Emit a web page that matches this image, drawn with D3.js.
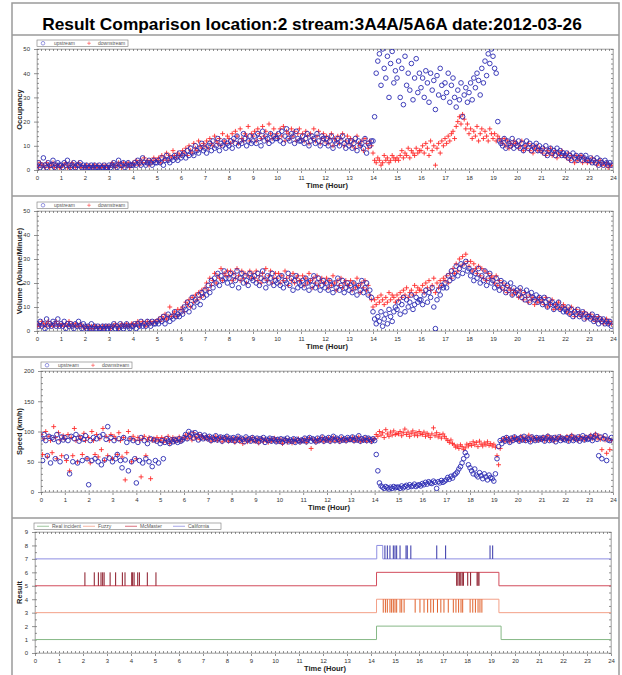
<!DOCTYPE html>
<html>
<head>
<meta charset="utf-8">
<script src="https://cdn.jsdelivr.net/npm/d3@7"></script>
<style>
  body { margin: 0; background: #fff; }
  text { font-family: "Liberation Sans", Arial, sans-serif; }
</style>
</head>
<body>
<div id="chart"></div>
<script>
// ---- data: one row per hour, one value every 4 minutes ----
var PER_HOUR = 15;
var HOURS = d3.range(0, 25);

var occUp = [
  [2,3,1,2,5,2,1,3,2,2,4,1,2,3,2],
  [2,1,3,2,4,2,1,2,3,1,2,2,3,1,2],
  [1,2,1,1,2,1,2,1,1,2,1,1,2,1,1],
  [2,1,2,3,2,1,4,2,2,3,1,2,3,2,2],
  [2,3,2,4,3,2,5,3,2,3,4,3,2,4,3],
  [3,4,3,5,2,4,6,4,3,5,4,6,5,4,7],
  [5,6,7,5,8,6,9,7,6,10,8,7,9,11,8],
  [9,7,10,11,8,12,9,10,13,8,11,10,12,9,11],
  [10,12,9,13,11,14,10,12,11,15,13,10,12,14,11],
  [12,14,11,15,13,10,16,12,14,13,11,15,12,14,13],
  [13,15,12,16,11,14,17,13,12,15,14,11,16,13,12],
  [12,14,11,13,15,10,12,14,13,11,15,12,10,14,13],
  [11,13,10,12,14,9,12,11,13,10,12,14,11,9,12],
  [10,12,9,11,13,8,12,10,11,9,13,7,11,10,12],
  [12,22,40,45,48,35,50,42,38,47,30,44,49,36,41],
  [38,45,30,42,27,47,35,40,33,44,29,38,46,32,40],
  [34,38,30,41,36,28,40,33,37,25,39,31,42,35,30],
  [36,32,40,28,35,38,30,26,33,29,36,22,31,34,28],
  [32,36,29,38,34,40,37,31,42,36,45,39,48,44,50],
  [47,42,40,20,12,11,10,13,9,12,11,10,13,9,11],
  [10,12,9,11,8,10,12,9,11,8,10,9,11,8,10],
  [8,9,7,10,6,8,9,7,8,6,9,7,8,6,7],
  [6,7,5,6,4,7,5,6,4,5,6,4,5,6,4],
  [4,5,3,4,3,5,2,4,3,2,4,3,2,3,2]
].flat();

var occDn = [
  [2,1,3,2,2,1,3,2,1,2,3,1,2,2,1],
  [1,2,2,3,1,2,1,3,2,1,2,3,1,2,1],
  [1,2,1,2,1,1,2,1,2,1,1,2,1,2,1],
  [1,2,3,2,1,2,3,2,1,3,2,2,3,1,2],
  [3,2,4,3,2,4,3,5,3,4,2,4,3,5,4],
  [4,5,3,6,4,5,7,4,6,5,8,6,5,7,6],
  [6,8,7,9,6,10,8,7,11,9,8,12,10,9,11],
  [10,12,9,13,11,10,14,12,11,13,10,15,12,11,14],
  [13,11,15,12,16,14,11,17,13,12,15,14,18,12,15],
  [14,16,12,17,15,13,18,14,16,12,19,15,13,17,14],
  [15,13,17,14,18,12,16,15,13,17,14,16,12,15,17],
  [13,15,12,16,14,11,15,13,17,12,14,16,11,13,15],
  [12,14,11,13,15,10,13,12,14,11,13,15,10,12,14],
  [11,13,10,12,9,14,11,10,12,8,13,11,9,12,10],
  [7,4,3,5,4,2,3,6,4,5,3,4,6,5,4],
  [5,4,6,8,5,7,6,9,5,8,7,6,9,7,8],
  [8,10,7,11,9,6,12,8,10,2,9,11,7,12,10],
  [13,11,14,12,15,16,13,18,20,22,19,23,21,17,19],
  [15,17,13,16,14,18,12,15,17,13,16,14,12,17,15],
  [13,15,12,14,13,12,11,13,10,12,9,11,10,12,11],
  [11,9,10,12,8,10,9,11,8,10,7,9,10,8,9],
  [8,7,9,6,8,7,9,6,7,8,5,7,6,8,6],
  [6,5,7,4,6,5,3,6,4,5,6,3,5,4,3],
  [4,3,5,3,4,2,3,4,2,3,2,3,1,2,2]
].flat();

var volUp = [
  [3,2,4,2,3,1,5,2,3,2,4,3,2,5,2],
  [3,2,4,1,3,2,3,2,1,3,2,4,2,1,3],
  [2,1,2,1,3,1,2,1,2,1,1,2,1,2,1],
  [2,1,2,3,1,2,1,3,2,1,2,3,2,1,2],
  [2,3,1,3,2,4,2,3,2,4,3,2,4,3,3],
  [4,3,5,4,6,3,5,7,4,6,5,8,6,7,6],
  [8,7,10,9,12,8,11,14,10,13,12,15,11,16,14],
  [17,15,19,16,21,18,22,20,24,19,23,21,25,22,20],
  [22,24,19,23,21,25,18,22,24,20,23,21,19,24,22],
  [21,23,20,24,19,22,25,21,18,23,20,22,24,19,21],
  [20,22,19,23,18,21,20,24,19,22,17,21,23,18,20],
  [19,21,18,22,20,17,21,19,23,18,20,22,17,19,21],
  [18,20,17,21,19,16,20,18,22,17,19,21,16,18,20],
  [17,19,16,20,18,15,19,17,21,16,18,20,15,17,14],
  [8,5,3,6,4,8,2,5,7,3,9,6,4,8,10],
  [9,12,7,11,14,8,13,10,12,15,9,11,14,12,13],
  [13,11,15,17,12,16,14,18,10,1,13,17,15,19,18],
  [20,18,23,21,25,22,24,27,23,26,28,24,27,29,25],
  [26,23,25,21,24,22,26,20,23,21,25,19,22,24,20],
  [21,18,22,19,17,21,18,20,16,19,17,20,15,18,16],
  [17,15,18,14,16,13,17,15,12,16,14,13,15,12,14],
  [13,11,14,12,10,13,11,12,9,11,10,12,9,10,8],
  [9,8,10,7,9,6,8,7,9,6,7,8,5,7,6],
  [6,5,7,4,5,6,3,5,4,5,3,4,3,4,2]
].flat();

var volDn = [
  [2,3,2,4,3,2,3,4,2,3,2,3,4,2,3],
  [2,3,2,3,2,4,2,3,2,3,2,2,3,2,2],
  [1,2,2,1,2,1,2,2,1,2,1,2,1,2,2],
  [2,1,2,2,3,2,1,2,3,2,2,3,2,2,3],
  [3,2,3,4,2,3,4,3,2,4,3,4,3,4,4],
  [4,5,4,6,5,7,5,6,10,6,7,8,6,9,7],
  [9,10,8,12,11,13,10,14,12,15,13,16,14,17,15],
  [18,20,17,22,19,21,24,20,23,22,26,21,24,23,25],
  [23,25,21,24,22,26,23,21,25,22,24,20,23,25,22],
  [24,22,25,21,23,20,24,22,26,21,23,25,20,22,24],
  [22,24,20,23,21,25,22,19,23,21,24,20,22,23,21],
  [21,23,19,22,20,24,21,18,22,20,23,19,21,22,20],
  [20,22,18,21,19,23,20,17,21,19,22,18,20,21,19],
  [19,21,17,20,18,22,19,16,20,18,21,17,19,15,13],
  [10,13,11,14,12,15,13,11,14,12,16,13,15,14,12],
  [15,13,16,14,17,15,18,14,16,17,15,19,16,18,17],
  [17,19,16,20,18,21,17,19,22,16,20,18,21,19,22],
  [21,23,20,24,22,26,24,28,25,30,27,31,28,32,29],
  [27,29,25,28,26,24,27,23,26,22,25,21,24,22,23],
  [22,20,23,19,21,18,20,17,19,16,18,17,15,17,16],
  [16,14,17,15,13,16,14,12,15,13,14,11,13,12,14],
  [12,13,11,14,10,12,11,13,9,11,10,12,9,10,11],
  [10,8,9,7,10,8,6,9,7,8,6,7,8,5,7],
  [6,7,5,6,4,5,6,4,5,3,4,5,3,4,3]
].flat();

var spdUp = [
  [88,52,95,85,60,92,48,90,87,55,95,83,50,91,86],
  [90,58,85,30,92,50,88,95,48,84,90,52,87,93,55],
  [12,85,52,90,55,88,50,92,45,95,53,87,108,56,90],
  [50,85,55,62,88,52,40,90,53,82,35,88,50,85,55],
  [15,82,52,90,48,85,55,80,50,88,42,86,52,84,48],
  [80,85,55,82,88,84,80,86,83,87,85,82,88,84,86],
  [90,95,88,100,92,97,89,98,93,86,95,91,88,94,90],
  [88,92,85,90,87,93,86,89,91,84,90,88,92,85,89],
  [86,90,84,88,92,85,89,87,83,91,86,88,84,90,87],
  [85,89,83,88,86,90,82,87,85,89,84,88,86,83,87],
  [84,88,82,87,85,89,83,86,84,88,82,87,85,83,86],
  [85,89,83,87,90,84,88,86,83,89,85,87,91,84,88],
  [86,90,84,88,92,85,89,87,84,91,86,88,85,90,87],
  [87,91,85,89,86,93,84,88,86,90,85,89,87,84,88],
  [85,62,35,15,10,8,6,9,7,5,8,6,9,7,8],
  [8,6,10,7,9,11,8,12,9,10,13,9,11,12,10],
  [14,12,16,13,17,15,14,18,16,6,17,15,19,16,18],
  [20,24,21,26,23,28,30,33,38,42,48,55,65,60,45],
  [40,35,30,38,28,25,32,27,22,30,25,20,28,24,22],
  [18,30,55,75,85,80,88,84,90,86,82,89,85,91,87],
  [88,84,90,86,92,85,89,87,83,91,88,85,90,86,89],
  [87,90,84,88,92,85,89,86,90,83,88,91,85,89,87],
  [86,90,84,88,92,85,89,87,91,84,88,93,86,90,87],
  [88,92,85,90,94,87,60,91,55,88,93,52,86,85,90]
].flat();

var spdDn = [
  [95,62,88,100,58,92,85,65,108,90,55,98,86,60,93],
  [88,52,95,35,90,60,105,85,50,92,88,62,97,85,55],
  [90,48,100,85,62,95,58,88,70,105,52,92,60,85,95],
  [55,92,88,62,98,85,58,90,20,65,100,88,50,92,86],
  [55,90,85,25,88,92,60,86,90,22,85,88,84,90,86],
  [85,90,82,88,84,92,80,86,90,83,88,85,91,84,87],
  [90,94,88,96,92,86,98,91,89,95,87,93,90,88,92],
  [87,91,84,89,86,92,85,88,90,83,89,86,91,84,88],
  [85,89,82,87,90,84,88,80,86,89,83,87,85,90,84],
  [84,88,81,86,89,83,87,85,82,88,84,86,89,83,87],
  [83,87,80,85,88,82,86,84,81,87,83,85,88,82,86],
  [84,88,82,86,89,72,87,85,82,88,84,86,90,83,87],
  [85,89,83,87,90,84,88,86,83,89,85,87,84,88,86],
  [86,90,84,88,85,91,83,87,85,89,84,88,86,83,87],
  [88,95,92,100,94,98,90,103,96,92,99,94,101,95,97],
  [96,100,93,98,104,95,99,92,97,101,94,98,93,100,96],
  [95,99,92,97,94,90,96,106,93,98,91,95,89,96,92],
  [88,85,82,86,80,78,74,76,72,78,75,70,73,79,76],
  [80,77,83,78,82,75,84,79,76,81,78,83,77,80,76],
  [79,74,60,45,72,85,88,84,90,86,83,89,85,91,87],
  [88,84,92,86,90,85,89,94,84,91,88,86,90,85,89],
  [87,91,85,89,93,86,90,88,84,91,87,89,92,86,88],
  [88,92,85,90,94,87,91,89,85,92,88,90,86,91,89],
  [90,94,88,92,96,89,93,87,70,91,86,64,88,70,85]
].flat();

// detector results: hours where the signal is "on", plus short pulses
var realOn = [[14.23, 19.42]];
var fuzzyOn = [[14.23, 19.33]];
var fuzzyPulses = [14.51,14.6,14.68,14.79,14.86,14.93,15.0,15.07,15.21,15.28,15.38,15.84,16.04,
  16.21,16.36,16.49,16.6,16.77,16.91,17.04,17.22,17.43,17.54,17.65,17.75,17.82,18.13,18.24,18.35,
  18.46,18.54,18.62];
var mcmOn = [[14.23, 19.33]];
var mcmPulses = [2.08,2.47,2.64,2.75,2.82,2.88,3.13,3.36,3.64,3.75,4.03,4.07,4.13,4.28,4.35,4.68,5.04,
  17.57,17.62,17.68,17.74,17.8,17.85,18.03,18.15,18.42,18.46,18.5];
var calOn = [[14.24, 14.49]];
var calPulses = [14.58,14.68,14.79,14.93,15.0,15.07,15.21,15.46,15.51,15.66,16.74,17.11,18.96,19.07];

var TITLE = "Result Comparison location:2 stream:3A4A/5A6A date:2012-03-26";
var series = ["upstream", "downstream"];
var results = ["Real incident", "Fuzzy", "McMaster", "California"];

// ---- drawing ----
var W = 622, H = 675;
var svg = d3.select("#chart").append("svg").attr("width", W).attr("height", H);

svg.append("rect").attr("x", 12).attr("y", 3).attr("width", 607).attr("height", H)
  .attr("fill", "none").attr("stroke", "#9a9a9a").attr("stroke-width", 1.5);
[35, 196, 357, 518].forEach(function(y) {
  svg.append("line").attr("x1", 12).attr("x2", 619).attr("y1", y).attr("y2", y)
    .attr("stroke", "#9a9a9a").attr("stroke-width", 1.5);
});

// title: pick the font size so the line spans about 540px
var title = svg.append("text").attr("x", 312).attr("y", 30).attr("text-anchor", "middle")
  .style("font-size", "20px").style("font-weight", "bold").text(TITLE);
var tw = title.node().getComputedTextLength();
title.style("font-size", (20 * 540 / tw).toFixed(2) + "px");

var minorX = d3.range(0, 24 * 6 + 1).map(function(i) { return i / 6; });

function drawAxes(p, x, y, yTicks, yMinor, label) {
  var g = svg.append("g").attr("class", "axes");
  // frame top/right
  g.append("rect").attr("x", p.left).attr("y", p.top).attr("width", p.right - p.left)
    .attr("height", p.bottom - p.top).attr("fill", "none").attr("stroke", "#b5b5b5").attr("stroke-width", 0.8);

  var xb = g.append("g").attr("transform", "translate(0," + p.bottom + ")")
    .call(d3.axisBottom(x).tickValues(HOURS).tickSizeInner(3).tickSizeOuter(0).tickPadding(3).tickFormat(d3.format("d")));
  g.append("g").attr("transform", "translate(0," + p.bottom + ")")
    .call(d3.axisBottom(x).tickValues(minorX).tickSizeInner(-2).tickSizeOuter(0).tickFormat(""));
  g.append("g").attr("transform", "translate(0," + p.top + ")")
    .call(d3.axisTop(x).tickValues(minorX).tickSizeInner(-2).tickSizeOuter(0).tickFormat(""));

  var yl = g.append("g").attr("transform", "translate(" + p.left + ",0)")
    .call(d3.axisLeft(y).tickValues(yTicks).tickSizeInner(3).tickSizeOuter(0).tickPadding(4));
  g.append("g").attr("transform", "translate(" + p.left + ",0)")
    .call(d3.axisLeft(y).tickValues(yMinor).tickSizeInner(-2).tickSizeOuter(0).tickFormat(""));
  g.append("g").attr("transform", "translate(" + p.right + ",0)")
    .call(d3.axisRight(y).tickValues(yMinor).tickSizeInner(-2).tickSizeOuter(0).tickFormat(""));

  g.selectAll(".domain").attr("stroke", "#bbbbbb");
  xb.select(".domain").attr("stroke", "#555").attr("stroke-width", 1);
  yl.select(".domain").attr("stroke", "#555").attr("stroke-width", 1);
  g.selectAll(".tick line").attr("stroke", "#666").attr("stroke-width", 0.7);
  g.selectAll(".tick text").style("font-size", "6px").attr("fill", "#333");

  g.append("text").attr("x", (p.left + p.right) / 2 + 2).attr("y", p.bottom + 18)
    .attr("text-anchor", "middle").style("font-size", "7.5px").style("font-weight", "bold")
    .attr("fill", "#222").text("Time (Hour)");
  g.append("text").attr("transform", "translate(" + 22 + "," + ((p.top + p.bottom) / 2) + ") rotate(-90)")
    .attr("text-anchor", "middle").style("font-size", "7.5px").style("font-weight", "bold")
    .attr("fill", "#222").text(label);
}

var panels = [
  { top: 49, bottom: 170, left: 37, right: 613, ymax: 50, step: 10, label: "Occupancy", up: occUp, dn: occDn },
  { top: 211, bottom: 331, left: 37, right: 613, ymax: 50, step: 10, label: "Volume (Volume/Minute)", up: volUp, dn: volDn },
  { top: 371, bottom: 492, left: 41, right: 613, ymax: 200, step: 50, label: "Speed (km/h)", up: spdUp, dn: spdDn }
];

var plusPath = "M-2.4,0h4.8M0,-2.4v4.8";

panels.forEach(function(p, k) {
  var x = d3.scaleLinear().domain([0, 24]).range([p.left, p.right]);
  var y = d3.scaleLinear().domain([0, p.ymax]).range([p.bottom, p.top]);
  drawAxes(p, x, y, d3.range(0, p.ymax + 1, p.step), d3.range(0, p.ymax + 0.001, p.step / 5), p.label);

  svg.append("clipPath").attr("id", "clip" + k).append("rect")
    .attr("x", p.left).attr("y", p.top).attr("width", p.right - p.left).attr("height", p.bottom - p.top);
  var g = svg.append("g").attr("clip-path", "url(#clip" + k + ")");

  g.selectAll("path.dn").data(p.dn).join("path").attr("class", "dn")
    .attr("d", plusPath)
    .attr("transform", function(v, i) { return "translate(" + x(i / PER_HOUR) + "," + y(v) + ")"; })
    .attr("stroke", "#ff2b2b").attr("stroke-width", 0.9).attr("fill", "none");
  g.selectAll("circle.up").data(p.up).join("circle").attr("class", "up")
    .attr("cx", function(v, i) { return x(i / PER_HOUR); })
    .attr("cy", function(v) { return y(v); })
    .attr("r", 2.3).attr("fill", "none").attr("stroke", "#2a2ab2").attr("stroke-width", 0.9);

  // legend
  var lg = svg.append("g").attr("transform", "translate(" + p.left + "," + (p.top - 9) + ")");
  lg.append("rect").attr("width", 91).attr("height", 6.5).attr("fill", "#fff")
    .attr("stroke", "#777").attr("stroke-width", 0.6);
  lg.append("circle").attr("cx", 6).attr("cy", 3.25).attr("r", 1.8).attr("fill", "none")
    .attr("stroke", "#5555cc").attr("stroke-width", 0.6);
  lg.append("path").attr("d", "M-1.8,0h3.6M0,-1.8v3.6").attr("transform", "translate(52,3.25)")
    .attr("stroke", "#ff4444").attr("stroke-width", 0.6);
  lg.selectAll("text").data(series).join("text")
    .attr("x", function(d, i) { return i === 0 ? 17 : 61; }).attr("y", 5.2)
    .style("font-size", "5px").attr("fill", "#555").text(function(d) { return d; });
});

// ---- result panel ----
(function() {
  var p = { top: 532, bottom: 653, left: 35, right: 611 };
  var x = d3.scaleLinear().domain([0, 24]).range([p.left, p.right]);
  var y = d3.scaleLinear().domain([0, 9]).range([p.bottom, p.top]);
  drawAxes(p, x, y, d3.range(0, 10), d3.range(0, 9.01, 0.5), "Result");

  var defs = [
    { name: results[0], base: 1, on: realOn, pulses: [], line: "#86b886", pulse: "#4a8a4a" },
    { name: results[1], base: 3, on: fuzzyOn, pulses: fuzzyPulses, line: "#f3a088", pulse: "#e0602a" },
    { name: results[2], base: 5, on: mcmOn, pulses: mcmPulses, line: "#d24c5c", pulse: "#8a1626" },
    { name: results[3], base: 7, on: calOn, pulses: calPulses, line: "#8e8ee2", pulse: "#3434a8" }
  ];
  var line = d3.line().x(function(d) { return x(d[0]); }).y(function(d) { return y(d[1]); });

  defs.forEach(function(s) {
    var pts = [[0, s.base]];
    s.on.forEach(function(iv) {
      pts.push([iv[0], s.base], [iv[0], s.base + 1], [iv[1], s.base + 1], [iv[1], s.base]);
    });
    pts.push([24, s.base]);
    svg.append("path").attr("d", line(pts)).attr("fill", "none")
      .attr("stroke", s.line).attr("stroke-width", 1);
    svg.append("g").selectAll("line").data(s.pulses).join("line")
      .attr("x1", function(t) { return x(t); }).attr("x2", function(t) { return x(t); })
      .attr("y1", y(s.base)).attr("y2", y(s.base + 1))
      .attr("stroke", s.pulse).attr("stroke-width", 1);
  });

  var lg = svg.append("g").attr("transform", "translate(" + (p.left - 1) + "," + (p.top - 9) + ")");
  lg.append("rect").attr("width", 187).attr("height", 6.5).attr("fill", "#fff")
    .attr("stroke", "#777").attr("stroke-width", 0.6);
  var offs = [3, 49, 91, 139];
  defs.forEach(function(s, i) {
    lg.append("line").attr("x1", offs[i]).attr("x2", offs[i] + 12).attr("y1", 3.25).attr("y2", 3.25)
      .attr("stroke", s.line).attr("stroke-width", 0.8);
    lg.append("text").attr("x", offs[i] + 15).attr("y", 5.2).style("font-size", "5px")
      .attr("fill", "#555").text(s.name);
  });
})();
</script>
</body>
</html>
